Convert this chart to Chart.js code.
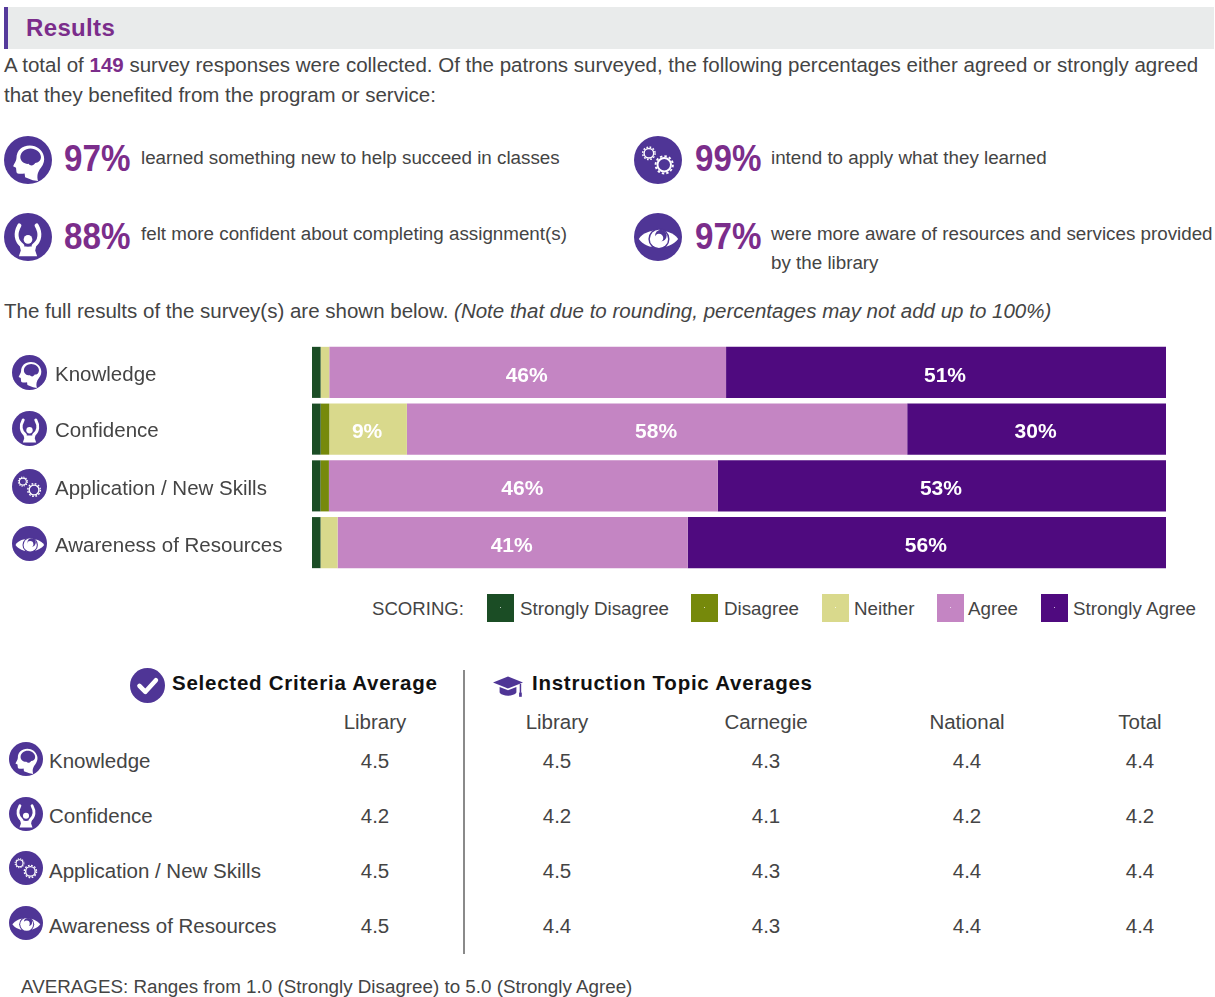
<!DOCTYPE html>
<html>
<head>
<meta charset="utf-8">
<title>Results</title>
<script src="https://cdn.jsdelivr.net/npm/chart.js@4"></script>
<style>
  html, body { margin: 0; padding: 0; background: #fff; }
  #page { position: relative; width: 1215px; height: 997px; overflow: hidden;
          font-family: "Liberation Sans", Arial, sans-serif; font-size: 20.5px; color: #444; }
  #page > * { position: absolute; }
  .txt { white-space: nowrap; line-height: 1; }
  .purple { color: #7b2d8b; font-weight: bold; }
  #titleBar { left: 4px; top: 7px; width: 1210px; height: 42px; background: #e9ebeb; border-left: 4px solid #553a9b; box-sizing: border-box; }
  #divider { left: 463px; top: 670px; width: 2px; height: 284px; background: #8a8a8a; }
  #chartResults { left: 0; top: 344px; }
  .swatch { width: 27px; height: 28px; top: 594px; }
  .swatch i { position: absolute; left: 13px; top: 13px; width: 1px; height: 1px; background: rgba(255,255,255,.7); }
</style>
</head>
<body>

<svg width="0" height="0" style="position:absolute">
  <defs>
    <symbol id="icon-knowledge" viewBox="0 0 100 100">
      <circle cx="50" cy="50" r="50" fill="#4f3596"/>
      <path fill="#fff" d="M54 20C37 20 26 31 26 46C26 52 21 58 19 63L25 66L26 75C27 80 36 79 43 78L44 86L60 92L71 94C68 83 70 75 77 66C83 58 85 50 83 42C80 29 68 20 54 20Z"/>
      <path fill="#4f3596" d="M34 44C34 34 44 26 55 26C66 26 77 34 77 44C77 52 71 56 65 56C62 62 55 63 51 58C43 59 34 53 34 44Z"/>
    </symbol>
    <symbol id="icon-confidence" viewBox="0 0 100 100">
      <circle cx="50" cy="50" r="50" fill="#4f3596"/>
      <path fill="none" stroke="#fff" stroke-width="8.5" stroke-linecap="round" d="M32 26C23 42 25 58 38 68M68 26C77 42 75 58 62 68"/>
      <circle cx="50" cy="55" r="9" fill="#fff"/>
      <path fill="#fff" d="M32 65C42 72 58 72 68 65L65 78L69 90L31 90L35 78Z"/>
    </symbol>
    <symbol id="icon-application" viewBox="0 0 100 100">
      <circle cx="50" cy="50" r="50" fill="#4f3596"/>
      <g fill="none" stroke="#fff">
        <circle cx="31" cy="36" r="10" stroke-width="3"/>
        <circle cx="31" cy="36" r="13" stroke-width="3" stroke-dasharray="3.5 3.3"/>
        <circle cx="63" cy="60" r="14" stroke-width="4"/>
        <circle cx="63" cy="60" r="18" stroke-width="4" stroke-dasharray="5 4.4"/>
      </g>
    </symbol>
    <symbol id="icon-awareness" viewBox="0 0 100 100">
      <circle cx="50" cy="50" r="50" fill="#4f3596"/>
      <path fill="#fff" d="M10 54C26 30 74 30 92 54C74 78 26 78 10 54Z"/>
      <circle cx="52" cy="54" r="22" fill="#4f3596"/>
      <circle cx="52" cy="54" r="19" fill="#fff"/>
      <circle cx="56" cy="47" r="12" fill="#4f3596"/>
      <circle cx="52" cy="52" r="9" fill="#fff"/>
    </symbol>
    <symbol id="icon-check" viewBox="0 0 100 100">
      <circle cx="50" cy="50" r="50" fill="#4f3596"/>
      <path fill="none" stroke="#fff" stroke-width="13" stroke-linecap="round" stroke-linejoin="round" d="M27 51L44 68L74 35"/>
    </symbol>
    <symbol id="icon-cap" viewBox="0 0 100 100">
      <path fill="#4f3596" d="M50 18L100 38L50 58L0 38Z"/>
      <path fill="#4f3596" d="M22 53L50 64L78 53L78 72C70 86 30 86 22 72Z"/>
      <rect x="89" y="43" width="5" height="30" fill="#4f3596"/>
      <rect x="87" y="72" width="9" height="14" fill="#4f3596"/>
    </symbol>
  </defs>
</svg>

<div id="page">
  <div id="titleBar"></div>
  <div id="divider"></div>
  <canvas id="chartResults" width="1215" height="227"></canvas>
</div>

<script>
// survey results, percent of responses per category
const categories = ['Knowledge', 'Confidence', 'Application / New Skills', 'Awareness of Resources'];
const scoring = ['Strongly Disagree', 'Disagree', 'Neither', 'Agree', 'Strongly Agree'];
const scoringColors = ['#1b4d25', '#76890b', '#d9d98c', '#c485c3', '#4f0a7f'];
const stronglyDisagree = [1, 1, 1, 1];
const disagree = [0, 1, 1, 0];
const neither = [1, 9, 0, 2];
const agree = [46, 58, 46, 41];
const stronglyAgree = [51, 30, 53, 56];
const seriesValues = [stronglyDisagree, disagree, neither, agree, stronglyAgree];

// average scores table
const tableColumns = ['Library', 'Library', 'Carnegie', 'National', 'Total'];
const criteriaLibrary = ['4.5', '4.2', '4.5', '4.5'];
const topicLibrary = ['4.5', '4.2', '4.5', '4.4'];
const topicCarnegie = ['4.3', '4.1', '4.3', '4.3'];
const topicNational = ['4.4', '4.2', '4.4', '4.4'];
const topicTotal = ['4.4', '4.2', '4.4', '4.4'];
const tableValues = [criteriaLibrary, topicLibrary, topicCarnegie, topicNational, topicTotal];

const iconIds = ['icon-knowledge', 'icon-confidence', 'icon-application', 'icon-awareness'];
const page = document.getElementById('page');

// absolute text helper, y is the vertical middle of the line
function put(html, x, y, opts) {
  opts = opts || {};
  const el = document.createElement('div');
  el.className = 'txt';
  el.innerHTML = html;
  el.style.left = x + 'px';
  el.style.top = y + 'px';
  el.style.transform = opts.center ? 'translate(-50%,-50%)' : 'translateY(-50%)';
  if (opts.narrow) {
    el.style.transformOrigin = 'left center';
    el.style.transform += ' scaleX(' + opts.narrow + ')';
  }
  if (opts.size) el.style.fontSize = opts.size + 'px';
  if (opts.bold) el.style.fontWeight = 'bold';
  if (opts.italic) el.style.fontStyle = 'italic';
  if (opts.color) el.style.color = opts.color;
  if (opts.spacing) el.style.letterSpacing = opts.spacing + 'px';
  page.appendChild(el);
}

function icon(id, cx, cy, size) {
  const svg = document.createElementNS('http://www.w3.org/2000/svg', 'svg');
  svg.setAttribute('width', size);
  svg.setAttribute('height', size);
  svg.style.left = (cx - size / 2) + 'px';
  svg.style.top = (cy - size / 2) + 'px';
  const use = document.createElementNS('http://www.w3.org/2000/svg', 'use');
  use.setAttribute('href', '#' + id);
  svg.appendChild(use);
  page.appendChild(svg);
}

// header and intro
put('Results', 26, 28, { size: 24, bold: true, color: '#7b2d8b', spacing: 0.35 });
put('A total of <span class="purple">149</span> survey responses were collected. Of the patrons surveyed, the following percentages either agreed or strongly agreed', 4, 65);
put('that they benefited from the program or service:', 4, 95);

// headline numbers
const bigNumber = { size: 37.7, bold: true, color: '#7b2d8b', narrow: 0.88 };
const statText = { size: 18.8 };
icon('icon-knowledge', 28, 160, 48);
put('97%', 64, 159, bigNumber);
put('learned something new to help succeed in classes', 141, 158, statText);
icon('icon-confidence', 28, 237, 48);
put('88%', 64, 237, bigNumber);
put('felt more confident about completing assignment(s)', 141, 234, statText);
icon('icon-application', 658, 160, 48);
put('99%', 695, 159, bigNumber);
put('intend to apply what they learned', 771, 158, statText);
icon('icon-awareness', 658, 237, 48);
put('97%', 695, 237, bigNumber);
put('were more aware of resources and services provided', 771, 234, statText);
put('by the library', 771, 263, statText);

put('The full results of the survey(s) are shown below. <i>(Note that due to rounding, percentages may not add up to 100%)</i>', 4, 311);

// row labels beside the bars
const barRowIconY = [372, 428, 486, 543];
const barRowTextY = [374, 430, 488, 545];
categories.forEach((name, i) => {
  icon(iconIds[i], 29, barRowIconY[i], 35);
  put(name, 55, barRowTextY[i]);
});

// legend
put('SCORING:', 372, 609, { size: 18.6 });
const swatchX = [487, 691, 822, 937, 1041];
const legendTextX = [520, 724, 854, 968, 1073];
scoring.forEach((name, i) => {
  const sw = document.createElement('div');
  sw.className = 'swatch';
  sw.style.left = swatchX[i] + 'px';
  sw.style.background = scoringColors[i];
  sw.appendChild(document.createElement('i'));
  page.appendChild(sw);
  put(name, legendTextX[i], 609, { size: 18.75 });
});

// averages table
icon('icon-check', 147, 685, 35);
put('Selected Criteria Average', 172, 683, { bold: true, color: '#111', spacing: 0.75 });
icon('icon-cap', 508, 686, 30);
put('Instruction Topic Averages', 532, 683, { bold: true, color: '#111', spacing: 0.75 });

const columnX = [375, 557, 766, 967, 1140];
const rowY = [761, 816, 871, 926];
const rowIconY = [759, 814, 868, 923];
tableColumns.forEach((name, c) => put(name, columnX[c], 722, { center: true }));
categories.forEach((name, r) => {
  icon(iconIds[r], 26, rowIconY[r], 34);
  put(name, 49, rowY[r]);
  tableValues.forEach((col, c) => put(col[r], columnX[c], rowY[r], { center: true }));
});

put('AVERAGES: Ranges from 1.0 (Strongly Disagree) to 5.0 (Strongly Agree)', 21, 987, { size: 18.8 });

// bars fill the full width, so each row is scaled by its own total (rounding gives 99-101)
const rowTotals = categories.map((_, r) => seriesValues.reduce((sum, s) => sum + s[r], 0));
const datasets = scoring.map((name, i) => ({
  label: name,
  data: seriesValues[i].map((v, r) => v / rowTotals[r] * 100),
  backgroundColor: scoringColors[i],
  categoryPercentage: 0.9,
  barPercentage: 1
}));

// white percent labels, small segments stay unlabelled
const barLabels = {
  id: 'barLabels',
  afterDatasetsDraw(chart) {
    const ctx = chart.ctx;
    ctx.save();
    ctx.font = 'bold 21px "Liberation Sans", Arial, sans-serif';
    ctx.fillStyle = '#fff';
    ctx.textAlign = 'center';
    ctx.textBaseline = 'middle';
    chart.data.datasets.forEach((ds, i) => {
      chart.getDatasetMeta(i).data.forEach((bar, r) => {
        const raw = seriesValues[i][r];
        if (raw < 5) return;
        const c = bar.getCenterPoint();
        ctx.fillText(raw + '%', c.x - 1, c.y + 3.5);
      });
    });
    ctx.restore();
  }
};

new Chart(document.getElementById('chartResults').getContext('2d'), {
  type: 'bar',
  data: { labels: categories, datasets: datasets },
  plugins: [barLabels],
  options: {
    indexAxis: 'y',
    responsive: false,
    animation: false,
    layout: { padding: { left: 312, right: 49, top: 0, bottom: 0 } },
    plugins: { legend: { display: false }, tooltip: { enabled: false } },
    scales: {
      x: { stacked: true, min: 0, max: 100, display: false },
      y: { stacked: true, display: false }
    }
  }
});
</script>
</body>
</html>
